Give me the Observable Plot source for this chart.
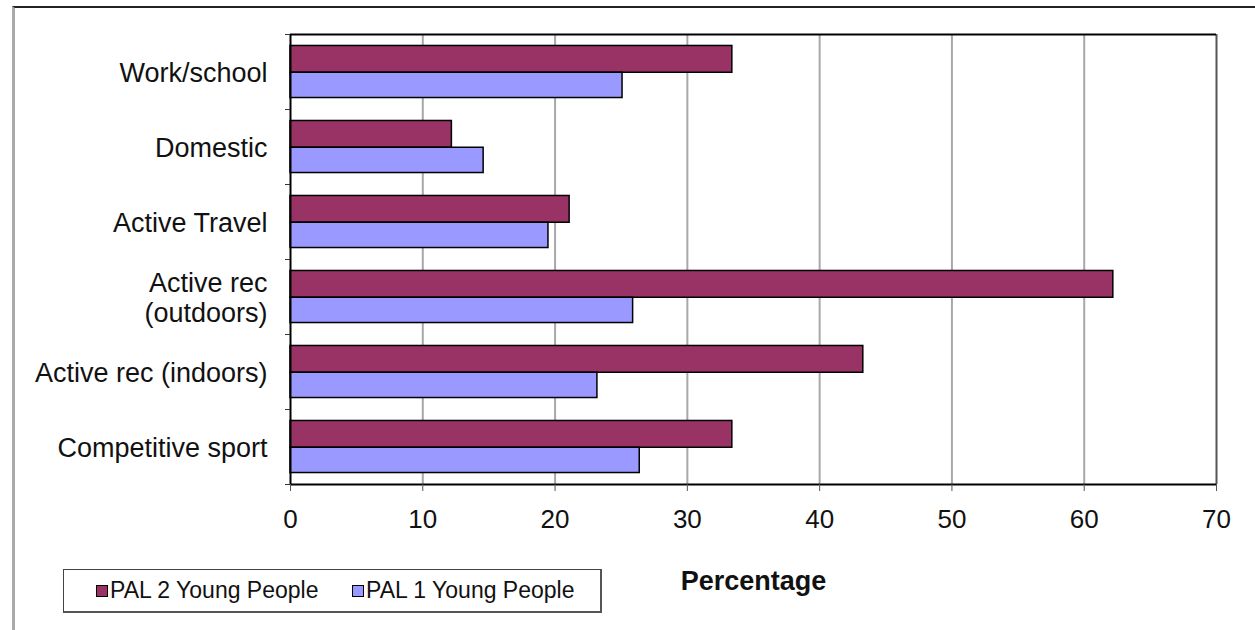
<!DOCTYPE html>
<html>
<head>
<meta charset="utf-8">
<script src="https://cdn.jsdelivr.net/npm/d3@7"></script>
<script src="https://cdn.jsdelivr.net/npm/@observablehq/plot@0.6"></script>
<style>
  html, body { margin: 0; padding: 0; background: #fff; }
  body { width: 1255px; height: 630px; position: relative; overflow: hidden; font-family: "Liberation Sans", Arial, sans-serif; }
  #outer { position: absolute; left: 12px; top: 6px; width: 1300px; height: 700px; border-top: 2px solid #222; border-left: 3px solid #aaa; box-sizing: border-box; }
  #chart { position: absolute; left: 0; top: 0; }
  #chart svg { overflow: visible; }
  g[aria-label="x-axis label"] text { font-weight: bold; font-size: 27px; }
  #legend { position: absolute; left: 63px; top: 569px; width: 539px; height: 44px; box-sizing: border-box; border: 1px solid #444; border-right: 2px solid #555; border-bottom: 2px solid #555; background: #fff; font-size: 23px; color: #111; }
  .item { position: absolute; top: 7px; display: flex; align-items: center; white-space: nowrap; }
  .sw { width: 10px; height: 10px; border: 1.5px solid #000; margin-right: 2px; }
</style>
</head>
<body>
<div id="outer"></div>
<div id="chart"></div>
<div id="legend"></div>
<script>
const categories = ["Work/school", "Domestic", "Active Travel", "Active rec\n(outdoors)", "Active rec (indoors)", "Competitive sport"];
const seriesNames = ["PAL 2 Young People", "PAL 1 Young People"];
const seriesColors = ["#993366", "#9999FF"];
const pal2 = [33.4, 12.2, 21.1, 62.2, 43.3, 33.4];
const pal1 = [25.1, 14.6, 19.5, 25.9, 23.2, 26.4];
const xTicks = [0, 10, 20, 30, 40, 50, 60, 70];

const rows = [];
categories.forEach((c, i) => {
  rows.push({category: c, series: seriesNames[0], value: pal2[i], y1: i + 0.153, y2: i + 0.51});
  rows.push({category: c, series: seriesNames[1], value: pal1[i], y1: i + 0.51, y2: i + 0.847});
});

const n = categories.length;
const chart = Plot.plot({
  width: 1255,
  height: 594,
  marginLeft: 290,
  marginRight: 39,
  marginTop: 34,
  marginBottom: 110,
  style: {fontFamily: "'Liberation Sans', Arial, sans-serif", fontSize: "25px", color: "#111", background: "transparent"},
  x: {type: "linear", domain: [0, 70]},
  y: {type: "linear", domain: [0, n], reverse: true},
  color: {domain: seriesNames, range: seriesColors},
  marks: [
    Plot.gridX(xTicks.filter(d => d > 0 && d < 70), {stroke: "#a8a8a8", strokeOpacity: 1, strokeWidth: 2}),
    Plot.rect(rows, {x1: () => 0, x2: "value", y1: "y1", y2: "y2", fill: "series", stroke: "#000", strokeWidth: 1.5}),
    Plot.ruleX([70], {stroke: "#555", strokeWidth: 2}),
    Plot.ruleY([0], {stroke: "#000", strokeWidth: 2}),
    Plot.ruleY([n], {stroke: "#000", strokeWidth: 2}),
    Plot.ruleX([0], {stroke: "#000", strokeWidth: 2}),
    Plot.axisY(d3.range(n + 1), {tickSize: 5, tickFormat: () => "", stroke: "#333", label: null}),
    Plot.axisY(d3.range(n).map(i => i + 0.5), {tickSize: 0, tickPadding: 23, tickFormat: v => categories[Math.floor(v)], fontSize: 27, lineHeight: 1.12, label: null}),
    Plot.axisX(xTicks, {tickSize: 7, tickPadding: 18, fontSize: 26, stroke: "#555", label: "Percentage", labelAnchor: "center", labelArrow: "none", labelOffset: 105})
  ]
});
document.getElementById("chart").appendChild(chart);

const legend = document.getElementById("legend");
const lefts = [32, 288];
seriesNames.forEach((s, k) => {
  const it = document.createElement("div");
  it.className = "item";
  it.style.left = lefts[k] + "px";
  const sw = document.createElement("div");
  sw.className = "sw";
  sw.style.background = seriesColors[k];
  const t = document.createElement("span");
  t.textContent = s;
  it.appendChild(sw);
  it.appendChild(t);
  legend.appendChild(it);
});
</script>
</body>
</html>
